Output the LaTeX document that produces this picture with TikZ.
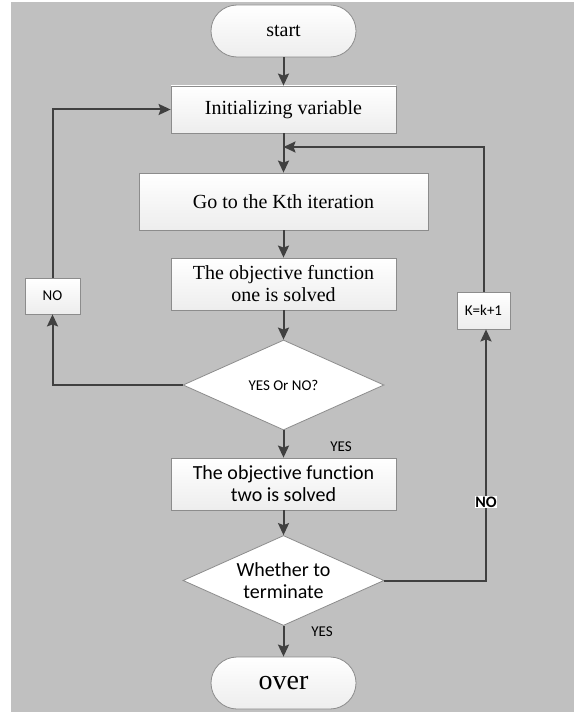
\documentclass[tikz,border=0pt]{standalone}
\usepackage{fontspec}
\setmainfont{Liberation Serif}
\newfontfamily\calib[RawFeature={-liga;-clig;-dlig}]{Carlito}
\usetikzlibrary{shapes.geometric,arrows.meta}
\definecolor{bggray}{HTML}{C0C0C0}
\definecolor{linegray}{HTML}{404040}
\definecolor{edgegray}{HTML}{8C8C8C}
\tikzset{
  box/.style={draw=edgegray, line width=0.8bp, top color=white, bottom color=black!7,
    inner sep=0pt, align=center, font=\fontsize{20bp}{22bp}\selectfont},
  term/.style={box, rounded corners=26bp, minimum width=145bp, minimum height=52bp},
  dec/.style={draw=edgegray, line width=0.8bp, fill=white, shape=diamond, shape aspect=2.23,
    minimum width=201bp, minimum height=90bp, inner sep=0pt, align=center},
  small/.style={font=\calib\fontsize{15bp}{17bp}\selectfont},
  flow/.style={draw=linegray, line width=2bp, -{Stealth[length=12bp,width=11bp,inset=2bp]}},
  plain/.style={draw=linegray, line width=2bp}
}
\begin{document}
\begin{tikzpicture}[x=1bp,y=-1bp]
\useasboundingbox (0,0) rectangle (574,713);
\fill[bggray] (11,2) rectangle (574,712);
\node[term] (start) at (283.5,31) {start};
\node[box, minimum width=225bp, minimum height=47bp] (init) at (283.5,109.5) {Initializing variable};
\node[box, minimum width=289bp, minimum height=57bp] (kth) at (283.5,201.5) {Go to the Kth iteration};
\node[box, minimum width=225bp, minimum height=52bp] (obj1) at (283.5,284) {The objective function\\one is solved};
\node[dec, small] (d1) at (283.5,385) {YES Or NO?};
\node[box, minimum width=225bp, minimum height=52bp, font=\calib\fontsize{20bp}{22bp}\selectfont] (obj2) at (283.5,484) {The objective function\\two is solved};
\node[dec, font=\calib\fontsize{20bp}{22bp}\selectfont] (d2) at (283.5,580.5) {Whether to\\terminate};
\node[term, font=\fontsize{28bp}{30bp}\selectfont] (over) at (283.5,683) {over};
\node[box, small, minimum width=55bp, minimum height=36bp] (no) at (52.5,296) {NO};
\node[box, small, minimum width=53bp, minimum height=37bp] (kk) at (483.5,310.5) {K=k+1};
\node[small] (yes1) at (341,447) {YES};
\node[small] (yes2) at (322,632) {YES};
\coordinate (m) at (283.5,147);
\coordinate (l1) at (52.5,385);
\coordinate (l2) at (52.5,109.5);
\coordinate (r1) at (486,580.5);
\coordinate (r2) at (484,147);
\draw[flow] (start) -- (init);
\draw[flow] (init) -- (kth);
\draw[flow] (kth) -- (obj1);
\draw[flow] (obj1) -- (d1);
\draw[flow] (d1) -- (obj2);
\draw[flow] (obj2) -- (d2);
\draw[flow] (d2) -- (over);
\draw[flow] (d1.west) -- (l1) -- (no.south);
\draw[flow] (no.north) -- (l2) -- (init.west);
\draw[flow] (d2.east) -- (r1) -- (kk.south -| r1);
\draw[flow] (kk.north -| r2) -- (r2) -- (m);
\node[font=\calib\bfseries\fontsize{16bp}{18bp}\selectfont, fill=white, inner sep=0.5bp] (nolab) at (486,502) {NO};
\end{tikzpicture}
\end{document}
